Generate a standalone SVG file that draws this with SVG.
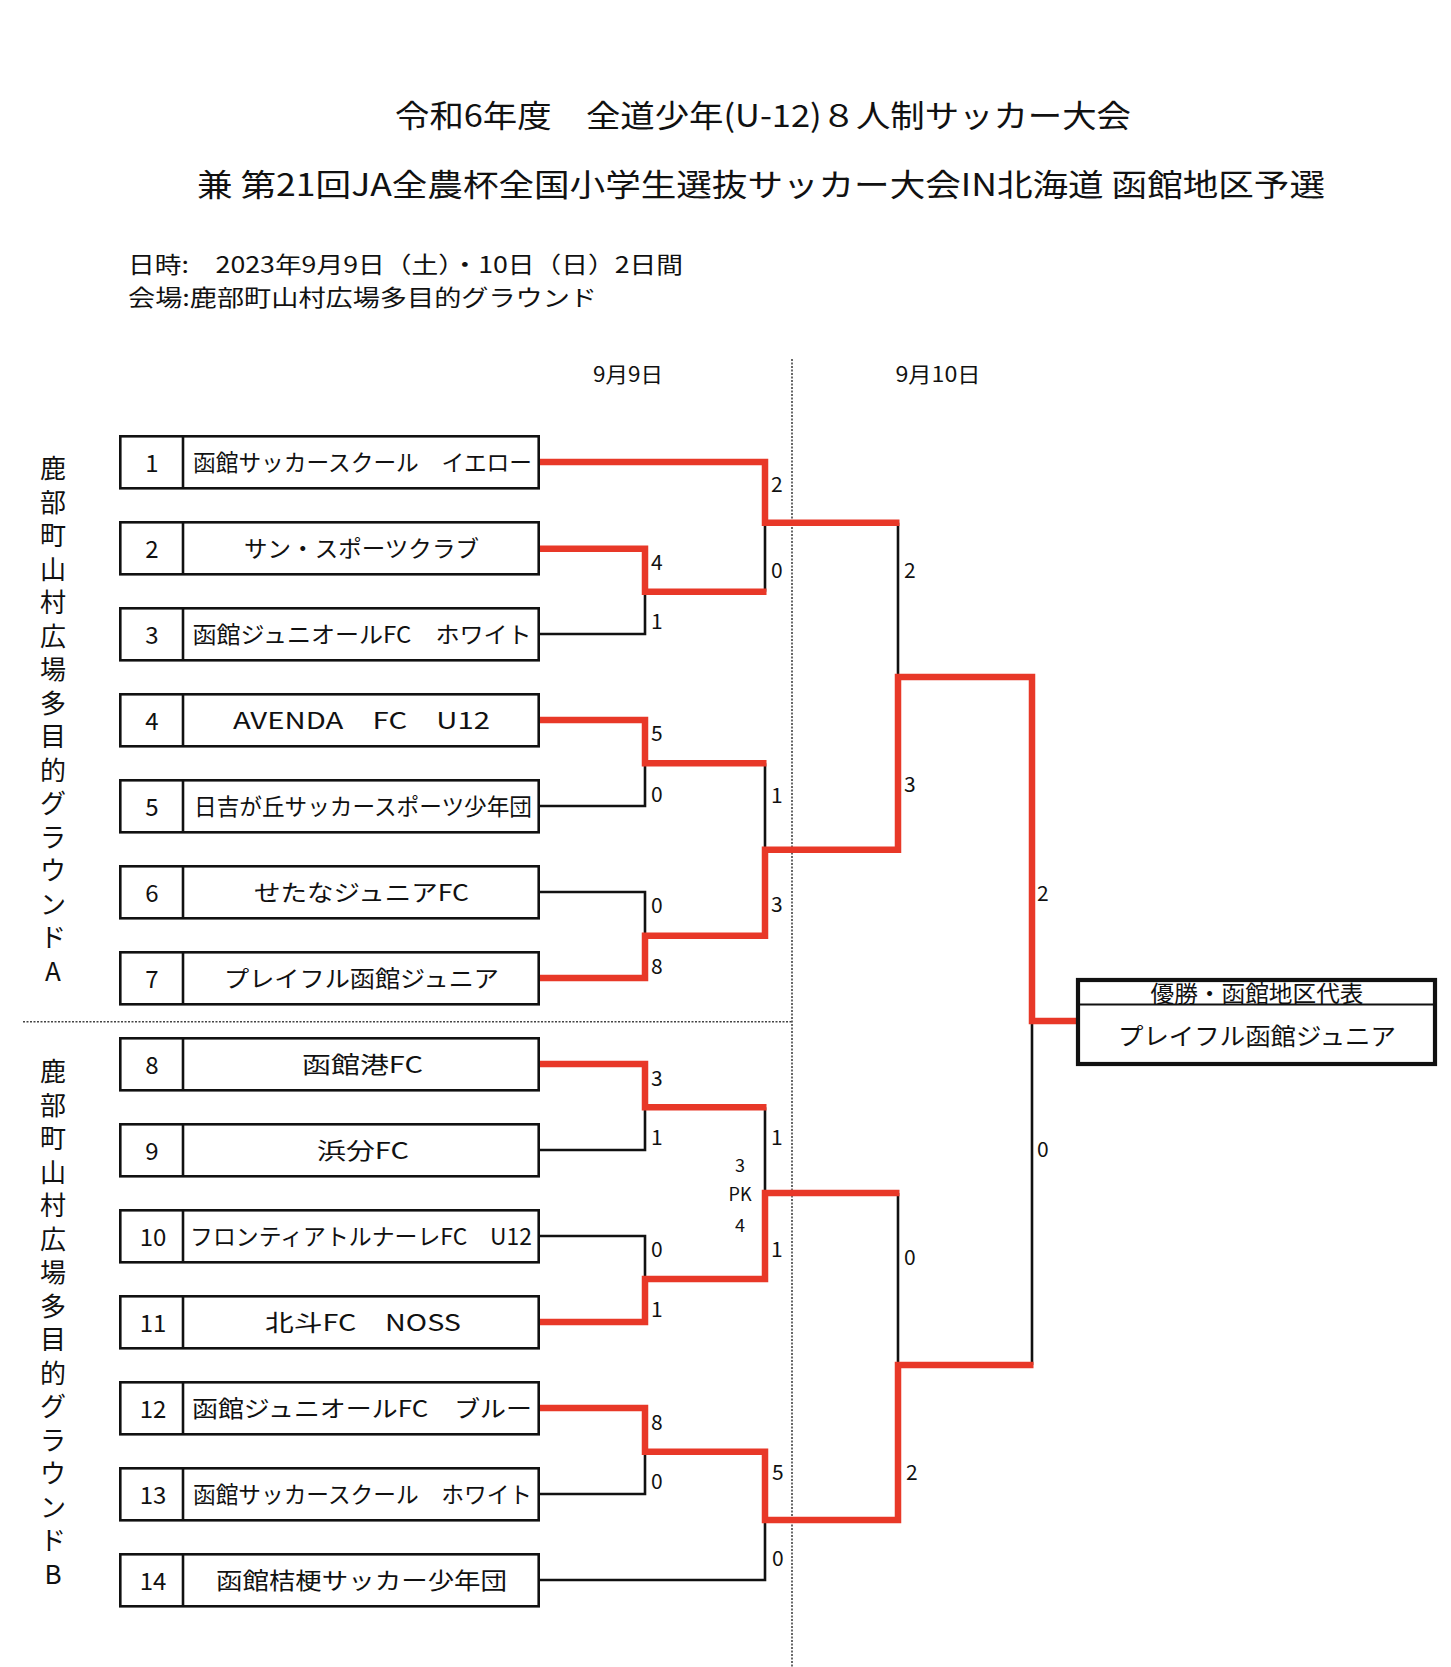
<svg xmlns="http://www.w3.org/2000/svg" width="1451" height="1667" viewBox="0 0 1451 1667">
<style>
text{font-family:"Noto Sans CJK JP","Noto Sans",sans-serif;fill:#111}
.title{font-size:31px}
.info{font-size:22.5px}
.day{font-size:21px}
.vt{font-size:26px;text-anchor:middle;dominant-baseline:central}
.box{fill:#fff;stroke:#111;stroke-width:2.6}
.num{font-size:24px;text-anchor:middle;dominant-baseline:central}
.name{font-size:23px;text-anchor:middle;dominant-baseline:central}
.sc{font-size:21px;dominant-baseline:central}
.pk{font-size:18px;text-anchor:middle;dominant-baseline:central}
.blk{fill:none;stroke:#111;stroke-width:2.6;stroke-linejoin:miter}
.red{fill:none;stroke:#e83828;stroke-width:6.5;stroke-linejoin:miter;stroke-linecap:butt}
.dot{fill:none;stroke:#444;stroke-width:1.6;stroke-dasharray:2 1.5}
</style>
<defs>
<clipPath id="topcell"><rect x="1081" y="982" width="352" height="22"/></clipPath>
</defs>
<rect width="1451" height="1667" fill="#fff"/>

<g id="header">
<text class="title" x="395" y="113" dominant-baseline="central" textLength="736" lengthAdjust="spacingAndGlyphs">令和6年度　全道少年(U-12)８人制サッカー大会</text>
<text class="title" x="197" y="182" dominant-baseline="central" textLength="1128" lengthAdjust="spacingAndGlyphs">兼 第21回JA全農杯全国小学生選抜サッカー大会IN北海道 函館地区予選</text>
<text class="info" x="128" y="263" dominant-baseline="central" textLength="555" lengthAdjust="spacingAndGlyphs">日時:　2023年9月9日（土）・10日（日）2日間</text>
<text class="info" x="128" y="296" dominant-baseline="central" textLength="469" lengthAdjust="spacingAndGlyphs">会場:鹿部町山村広場多目的グラウンド</text>
<text class="day" x="628" y="373" text-anchor="middle" dominant-baseline="central" textLength="70" lengthAdjust="spacingAndGlyphs">9月9日</text>
<text class="day" x="938" y="373" text-anchor="middle" dominant-baseline="central" textLength="85" lengthAdjust="spacingAndGlyphs">9月10日</text>
</g>

<g id="venue-a">
<text class="vt"><tspan x="53" y="466">鹿</tspan><tspan x="53" y="499.5">部</tspan><tspan x="53" y="533">町</tspan><tspan x="53" y="566.5">山</tspan><tspan x="53" y="600">村</tspan><tspan x="53" y="633.5">広</tspan><tspan x="53" y="667">場</tspan><tspan x="53" y="700.5">多</tspan><tspan x="53" y="734">目</tspan><tspan x="53" y="767.5">的</tspan><tspan x="53" y="801">グ</tspan><tspan x="53" y="834.5">ラ</tspan><tspan x="53" y="868">ウ</tspan><tspan x="53" y="901.5">ン</tspan><tspan x="53" y="935">ド</tspan><tspan x="53" y="969">A</tspan></text>
</g>
<g id="venue-b">
<text class="vt"><tspan x="53" y="1069">鹿</tspan><tspan x="53" y="1102.5">部</tspan><tspan x="53" y="1136">町</tspan><tspan x="53" y="1169.5">山</tspan><tspan x="53" y="1203">村</tspan><tspan x="53" y="1236.5">広</tspan><tspan x="53" y="1270">場</tspan><tspan x="53" y="1303.5">多</tspan><tspan x="53" y="1337">目</tspan><tspan x="53" y="1370.5">的</tspan><tspan x="53" y="1404">グ</tspan><tspan x="53" y="1437.5">ラ</tspan><tspan x="53" y="1471">ウ</tspan><tspan x="53" y="1504.5">ン</tspan><tspan x="53" y="1538">ド</tspan><tspan x="53" y="1572">B</tspan></text>
</g>

<g id="dividers">
<line class="dot" x1="792" y1="359" x2="792" y2="1667"/>
<line class="dot" x1="23" y1="1021.7" x2="792" y2="1021.7"/>
</g>

<g id="connectors">
<path class="blk" d="M539,634 H645 V591.7"/>
<path class="blk" d="M539,806 H645 V763.3"/>
<path class="blk" d="M539,892 H645 V935.7"/>
<path class="blk" d="M539,1150 H645 V1107.3"/>
<path class="blk" d="M539,1236 H645 V1279"/>
<path class="blk" d="M539,1494 H645 V1451.7"/>
<path class="blk" d="M539,1580 H765 V1520"/>
<path class="blk" d="M765,522.7 V591.7"/>
<path class="blk" d="M765,763.3 V849.7"/>
<path class="blk" d="M765,1107.3 V1193"/>
<path class="blk" d="M898,522.7 V677"/>
<path class="blk" d="M898,1193 V1365"/>
<path class="blk" d="M1032,1021 V1365"/>
<path class="red" d="M539,462 H765 V522.7 H899.5"/>
<path class="red" d="M539,548.7 H645 V591.7 H766.5"/>
<path class="red" d="M539,720 H645 V763.3 H766.5"/>
<path class="red" d="M539,978 H645 V935.7 H765 V849.7 H898 V677 H1032 V1021 H1079"/>
<path class="red" d="M539,1064 H645 V1107.3 H766.5"/>
<path class="red" d="M539,1322 H645 V1279 H765 V1193 H899.5"/>
<path class="red" d="M539,1408 H645 V1451.7 H765 V1520 H898 V1365 H1033.5"/>
</g>

<g id="scores">
<text class="sc" x="651" y="561">4</text>
<text class="sc" x="651" y="620">1</text>
<text class="sc" x="651" y="732">5</text>
<text class="sc" x="651" y="793">0</text>
<text class="sc" x="651" y="904">0</text>
<text class="sc" x="651" y="965">8</text>
<text class="sc" x="651" y="1077">3</text>
<text class="sc" x="651" y="1136">1</text>
<text class="sc" x="651" y="1248">0</text>
<text class="sc" x="651" y="1308">1</text>
<text class="sc" x="651" y="1421">8</text>
<text class="sc" x="651" y="1480">0</text>
<text class="sc" x="771" y="483">2</text>
<text class="sc" x="771" y="569">0</text>
<text class="sc" x="771" y="794">1</text>
<text class="sc" x="771" y="903">3</text>
<text class="sc" x="771" y="1136">1</text>
<text class="sc" x="771" y="1248">1</text>
<text class="sc" x="772" y="1471">5</text>
<text class="sc" x="772" y="1557">0</text>
<text class="sc" x="904" y="569">2</text>
<text class="sc" x="904" y="783">3</text>
<text class="sc" x="904" y="1256">0</text>
<text class="sc" x="906" y="1471">2</text>
<text class="sc" x="1037" y="892">2</text>
<text class="sc" x="1037" y="1148">0</text>
<text class="pk" x="740" y="1164">3</text>
<text class="pk" x="740" y="1193">PK</text>
<text class="pk" x="740" y="1224">4</text>
</g>

<g id="team-1"><rect class="box" x="120.3" y="436.3" width="418.4" height="52"/><line class="blk" x1="183" y1="436.3" x2="183" y2="488.3"/><text class="num" x="152" y="461">1</text><text class="name" x="362.5" y="461" textLength="339" lengthAdjust="spacingAndGlyphs">函館サッカースクール　イエロー</text></g>
<g id="team-2"><rect class="box" x="120.3" y="522.3" width="418.4" height="52"/><line class="blk" x1="183" y1="522.3" x2="183" y2="574.3"/><text class="num" x="152" y="547">2</text><text class="name" x="361.5" y="547" textLength="235" lengthAdjust="spacingAndGlyphs">サン・スポーツクラブ</text></g>
<g id="team-3"><rect class="box" x="120.3" y="608.3" width="418.4" height="52"/><line class="blk" x1="183" y1="608.3" x2="183" y2="660.3"/><text class="num" x="152" y="633">3</text><text class="name" x="362" y="633" textLength="339" lengthAdjust="spacingAndGlyphs">函館ジュニオールFC　ホワイト</text></g>
<g id="team-4"><rect class="box" x="120.3" y="694.3" width="418.4" height="52"/><line class="blk" x1="183" y1="694.3" x2="183" y2="746.3"/><text class="num" x="152" y="719">4</text><text class="name" x="361.5" y="719" textLength="257" lengthAdjust="spacingAndGlyphs">AVENDA　FC　U12</text></g>
<g id="team-5"><rect class="box" x="120.3" y="780.3" width="418.4" height="52"/><line class="blk" x1="183" y1="780.3" x2="183" y2="832.3"/><text class="num" x="152" y="805">5</text><text class="name" x="363" y="805" textLength="338" lengthAdjust="spacingAndGlyphs">日吉が丘サッカースポーツ少年団</text></g>
<g id="team-6"><rect class="box" x="120.3" y="866.3" width="418.4" height="52"/><line class="blk" x1="183" y1="866.3" x2="183" y2="918.3"/><text class="num" x="152" y="891">6</text><text class="name" x="361.5" y="891" textLength="215" lengthAdjust="spacingAndGlyphs">せたなジュニアFC</text></g>
<g id="team-7"><rect class="box" x="120.3" y="952.3" width="418.4" height="52"/><line class="blk" x1="183" y1="952.3" x2="183" y2="1004.3"/><text class="num" x="152" y="977">7</text><text class="name" x="361.5" y="977" textLength="275" lengthAdjust="spacingAndGlyphs">プレイフル函館ジュニア</text></g>
<g id="team-8"><rect class="box" x="120.3" y="1038.3" width="418.4" height="52"/><line class="blk" x1="183" y1="1038.3" x2="183" y2="1090.3"/><text class="num" x="152" y="1063">8</text><text class="name" x="362.5" y="1063" textLength="121" lengthAdjust="spacingAndGlyphs">函館港FC</text></g>
<g id="team-9"><rect class="box" x="120.3" y="1124.3" width="418.4" height="52"/><line class="blk" x1="183" y1="1124.3" x2="183" y2="1176.3"/><text class="num" x="152" y="1149">9</text><text class="name" x="363" y="1149" textLength="92" lengthAdjust="spacingAndGlyphs">浜分FC</text></g>
<g id="team-10"><rect class="box" x="120.3" y="1210.3" width="418.4" height="52"/><line class="blk" x1="183" y1="1210.3" x2="183" y2="1262.3"/><text class="num" x="153" y="1235">10</text><text class="name" x="361" y="1235" textLength="342" lengthAdjust="spacingAndGlyphs">フロンティアトルナーレFC　U12</text></g>
<g id="team-11"><rect class="box" x="120.3" y="1296.3" width="418.4" height="52"/><line class="blk" x1="183" y1="1296.3" x2="183" y2="1348.3"/><text class="num" x="153" y="1321">11</text><text class="name" x="363" y="1321" textLength="196" lengthAdjust="spacingAndGlyphs">北斗FC　NOSS</text></g>
<g id="team-12"><rect class="box" x="120.3" y="1382.3" width="418.4" height="52"/><line class="blk" x1="183" y1="1382.3" x2="183" y2="1434.3"/><text class="num" x="153" y="1407">12</text><text class="name" x="362" y="1407" textLength="340" lengthAdjust="spacingAndGlyphs">函館ジュニオールFC　ブルー</text></g>
<g id="team-13"><rect class="box" x="120.3" y="1468.3" width="418.4" height="52"/><line class="blk" x1="183" y1="1468.3" x2="183" y2="1520.3"/><text class="num" x="153" y="1493">13</text><text class="name" x="362.5" y="1493" textLength="339" lengthAdjust="spacingAndGlyphs">函館サッカースクール　ホワイト</text></g>
<g id="team-14"><rect class="box" x="120.3" y="1554.3" width="418.4" height="52"/><line class="blk" x1="183" y1="1554.3" x2="183" y2="1606.3"/><text class="num" x="153" y="1579">14</text><text class="name" x="361.5" y="1579" textLength="291" lengthAdjust="spacingAndGlyphs">函館桔梗サッカー少年団</text></g>

<g id="champion">
<rect x="1078" y="980" width="357" height="84" fill="#fff"/>
<text clip-path="url(#topcell)" x="1257" y="992" font-size="23" text-anchor="middle" dominant-baseline="central" textLength="213" lengthAdjust="spacingAndGlyphs">優勝・函館地区代表</text>
<line x1="1078" y1="1004.5" x2="1435" y2="1004.5" stroke="#111" stroke-width="1.8"/>
<text x="1257" y="1034" font-size="24" text-anchor="middle" dominant-baseline="central" textLength="278" lengthAdjust="spacingAndGlyphs">プレイフル函館ジュニア</text>
<rect x="1078" y="980" width="357" height="84" fill="none" stroke="#111" stroke-width="4.2"/>
</g>
</svg>
